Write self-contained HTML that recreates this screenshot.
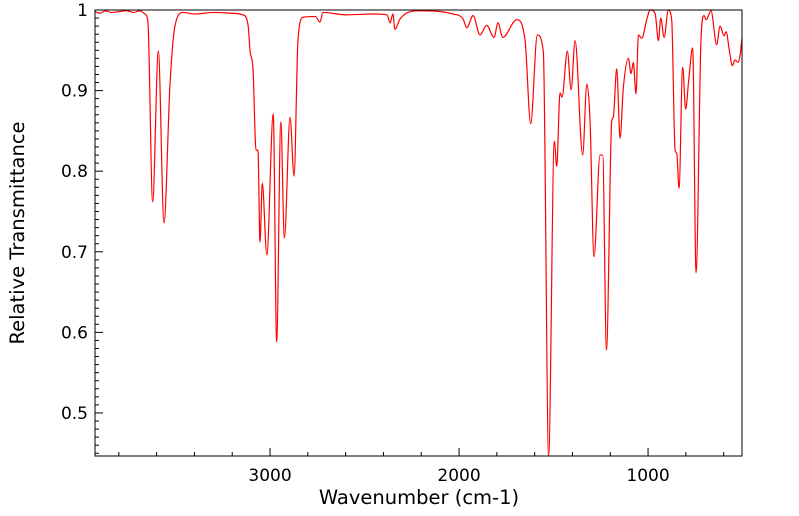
<!DOCTYPE html>
<html><head><meta charset="utf-8"><style>
html,body{margin:0;padding:0;background:#fff;}
svg{display:block;font-family:"DejaVu Sans","Liberation Sans",sans-serif;}
</style></head><body>
<svg id="chart" width="799" height="516" viewBox="0 0 799 516" xmlns="http://www.w3.org/2000/svg">
<rect x="95" y="10" width="647" height="446" fill="#fff"/>
<g id="axes"></g>
<path id="spectrum" fill="none" stroke="#ff0000" stroke-width="1.2" stroke-linejoin="round"/>
<rect x="95" y="10" width="647" height="446" fill="none" stroke="#000" stroke-width="1"/>
<text x="419" y="504" font-size="19.5" text-anchor="middle">Wavenumber (cm-1)</text>
<text transform="translate(24,233) rotate(-90)" font-size="19.5" text-anchor="middle">Relative Transmittance</text>
</svg>
<script>
const wavenumbers = [3926,3900,3870,3840,3800,3760,3720,3690,3661,3646,3621,3591,3561,3529,3503,3460,3400,3300,3200,3143,3116,3106,3090,3074,3064,3053,3041,3017,2983,2965,2943,2924,2894,2873,2852,2825,2760,2736,2720,2600,2450,2381,2365,2350,2339,2312,2222,2206,2032,1979,1959,1926,1889,1854,1815,1794,1769,1695,1651,1621,1586,1554,1526,1496,1483,1466,1455,1427,1407,1386,1346,1324,1307,1286,1254,1240,1220,1192,1184,1166,1148,1131,1104,1090,1078,1064,1051,1033,1007,989,963,945,933,915,893,875,857,848,836,817,801,785,764,746,720,704,693,667,637,619,598,587,570,554,540,524,513,503];
const transmittance = [0.998,0.996,0.999,0.997,0.998,0.999,0.997,0.999,0.995,0.985,0.762,0.949,0.736,0.909,0.980,0.997,0.995,0.997,0.996,0.994,0.981,0.950,0.926,0.826,0.826,0.712,0.785,0.696,0.871,0.588,0.861,0.717,0.867,0.794,0.963,0.991,0.992,0.985,0.997,0.994,0.995,0.994,0.984,0.995,0.976,0.989,0.999,0.999,0.995,0.989,0.978,0.993,0.969,0.981,0.966,0.984,0.966,0.988,0.963,0.859,0.969,0.948,0.447,0.837,0.806,0.897,0.892,0.949,0.901,0.962,0.820,0.908,0.863,0.694,0.820,0.820,0.578,0.863,0.867,0.927,0.841,0.903,0.940,0.921,0.935,0.896,0.969,0.965,0.988,1.000,0.996,0.962,0.990,0.966,1.000,0.988,0.826,0.822,0.779,0.929,0.877,0.913,0.953,0.674,0.963,0.993,0.988,0.999,0.957,0.980,0.968,0.973,0.950,0.931,0.938,0.935,0.944,0.965];
const xTicks = [3000,2000,1000];
const xTickLabels = ["3000","2000","1000"];
const yTicks = [0.5,0.6,0.7,0.8,0.9,1];
const yTickLabels = ["0.5","0.6","0.7","0.8","0.9","1"];

const X0=95,X1=742,Y0=10,Y1=456;
const W_LEFT=3926,W_RIGHT=503,T_TOP=1.0,T_BOT=0.4466;
function xs(w){return X0+(W_LEFT-w)/(W_LEFT-W_RIGHT)*(X1-X0);}
function ys(t){return Y0+(T_TOP-t)/(T_TOP-T_BOT)*(Y1-Y0);}
const NS="http://www.w3.org/2000/svg";
const axes=document.getElementById('axes');
function line(x1,y1,x2,y2,name){
  const l=document.createElementNS(NS,'line');
  l.setAttribute('x1',x1);l.setAttribute('y1',y1);l.setAttribute('x2',x2);l.setAttribute('y2',y2);
  l.setAttribute('stroke','#000');l.setAttribute('stroke-width','1');
  
  
  axes.appendChild(l);
}
function label(x,y,txt,anchor,name){
  const t=document.createElementNS(NS,'text');
  t.setAttribute('x',x);t.setAttribute('y',y);t.setAttribute('font-size','17');t.setAttribute('text-anchor',anchor);
  t.textContent=txt;
  
  
  axes.appendChild(t);
}
for(let i=45;i<=100;i++){
  const v=i/100; if(v<T_BOT) continue;
  const y=ys(v); const major=(i%10===0);
  line(X0,y,X0+(major?8:4),y, major?'y-major-tick':'y-minor-tick');
}
yTicks.forEach((v,i)=>label(88,ys(v)+6,yTickLabels[i],'end','y-tick-label'));
for(let w=600;w<=3800;w+=200){
  const x=xs(w); const major=(w%1000===0);
  line(x,Y1,x,Y1-(major?8:4), major?'x-major-tick':'x-minor-tick');
}
xTicks.forEach((v,i)=>label(xs(v),481,xTickLabels[i],'middle','x-tick-label'));
const px=wavenumbers.map(xs);
const py=transmittance.map(t=>ys(t));
const n=px.length;
const dl=[],m=[];
for(let i=0;i<n-1;i++) dl.push((py[i+1]-py[i])/(px[i+1]-px[i]));
m[0]=dl[0]; m[n-1]=dl[n-2];
for(let i=1;i<n-1;i++){ m[i]=(dl[i-1]*dl[i]<=0)?0:(dl[i-1]+dl[i])/2; }
for(let i=0;i<n-1;i++){
  if(dl[i]===0){m[i]=0;m[i+1]=0;continue;}
  const a=m[i]/dl[i],b=m[i+1]/dl[i],s=a*a+b*b;
  if(s>9){const t=3/Math.sqrt(s);m[i]=t*a*dl[i];m[i+1]=t*b*dl[i];}
}
let d='M'+px[0].toFixed(2)+','+py[0].toFixed(2);
for(let i=0;i<n-1;i++){
  const h=(px[i+1]-px[i])/3;
  d+='C'+(px[i]+h).toFixed(2)+','+(py[i]+m[i]*h).toFixed(2)+' '+(px[i+1]-h).toFixed(2)+','+(py[i+1]-m[i+1]*h).toFixed(2)+' '+px[i+1].toFixed(2)+','+py[i+1].toFixed(2);
}
document.getElementById('spectrum').setAttribute('d',d);
</script>
</body></html>
